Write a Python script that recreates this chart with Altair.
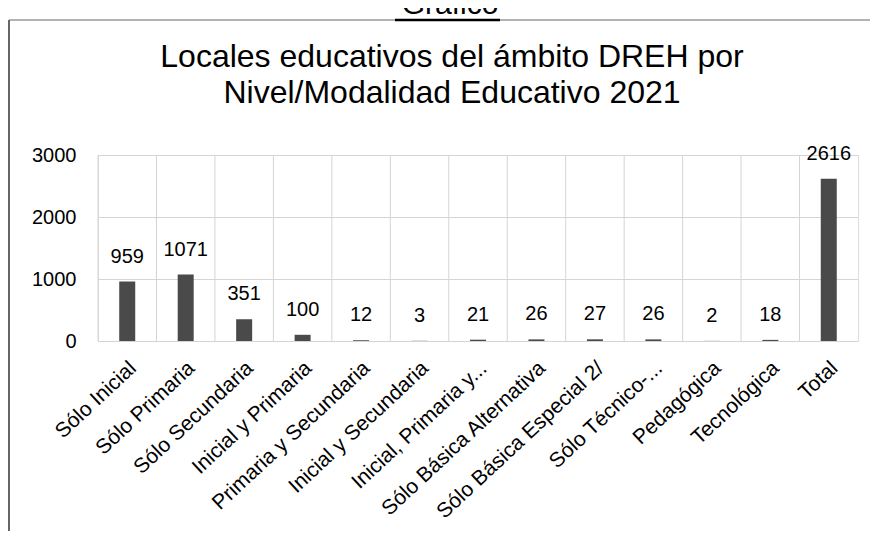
import altair as alt
import pandas as pd

categories = [
    "Sólo Inicial", "Sólo Primaria", "Sólo Secundaria", "Inicial y Primaria",
    "Primaria y Secundaria", "Inicial y Secundaria", "Inicial, Primaria y...",
    "Sólo Básica Alternativa", "Sólo Básica Especial 2/", "Sólo Técnico-...",
    "Pedagógica", "Tecnológica", "Total",
]
values = [959, 1071, 351, 100, 12, 3, 21, 26, 27, 26, 2, 18, 2616]
y_ticks = [0, 500, 1000, 1500, 2000, 2500, 3000]
title_lines = ["Locales educativos del ámbito DREH por", "Nivel/Modalidad Educativo 2021"]
header = ["Gráfico"]

df = pd.DataFrame({"cat": categories, "val": values})
FONT = "Liberation Sans"
GRID = "#d4d4d4"

x_scale = alt.Scale(paddingInner=0, paddingOuter=0)
x_enc = alt.X(
    "cat:N", sort=categories, title=None, scale=x_scale,
    axis=alt.Axis(
        labelAngle=-43, labelAlign="right", labelBaseline="middle",
        labelFontSize=21, labelFont=FONT, labelColor="black",
        labelPadding=24, labelOffset=6, ticks=False, domain=False,
        grid=False, labelLimit=300,
    ),
)
y_enc = alt.Y(
    "val:Q", title=None,
    scale=alt.Scale(domain=[0, 3000], nice=False),
    axis=alt.Axis(
        values=y_ticks, format="d", labelOverlap=False,
        labelFontSize=20, labelFont=FONT, labelColor="black",
        labelPadding=22, ticks=False, domain=False,
        gridColor=GRID, gridWidth=1,
    ),
)

base = alt.Chart(df)
vgrid = base.mark_rule(color=GRID, strokeWidth=1).encode(
    x=alt.X("cat:N", sort=categories, bandPosition=0),
)
bars = base.mark_bar(color="#4a4a4a", width=16).encode(x=x_enc, y=y_enc)
labels = base.mark_text(
    baseline="alphabetic", dy=-19, fontSize=20, font=FONT, color="black"
).encode(x=alt.X("cat:N", sort=categories), y="val:Q", text="val:Q")

title1 = alt.Chart(pd.DataFrame({"t": [title_lines[0]]})).mark_text(
    fontSize=32, font=FONT, color="black", baseline="alphabetic"
).encode(x=alt.value(354), y=alt.value(-88), text="t:N")
title2 = alt.Chart(pd.DataFrame({"t": [title_lines[1]]})).mark_text(
    fontSize=32, font=FONT, color="black", baseline="alphabetic"
).encode(x=alt.value(354), y=alt.value(-52), text="t:N")

head = alt.Chart(pd.DataFrame({"t": header})).mark_text(
    fontSize=30, font=FONT, color="black", baseline="alphabetic"
).encode(x=alt.value(352), y=alt.value(-141), text="t:N")

border_left = alt.Chart(pd.DataFrame({"t": header})).mark_rule(color="#333333", strokeWidth=1.5).encode(
    x=alt.value(-89), y=alt.value(-135), y2=alt.value(400)
)
border_top = alt.Chart(pd.DataFrame({"t": header})).mark_rule(color="#666666", strokeWidth=1).encode(
    x=alt.value(-89), x2=alt.value(772), y=alt.value(-135)
)
underline = alt.Chart(pd.DataFrame({"t": header})).mark_rule(color="black", strokeWidth=2.5).encode(
    x=alt.value(297), x2=alt.value(402), y=alt.value(-135)
)

chart = alt.layer(
    vgrid, bars, labels, title1, title2, head, border_left, border_top, underline
).properties(
    width=760, height=186,
    autosize=alt.AutoSizeParams(type="none"),
    padding={"left": 90, "top": 147, "right": 14, "bottom": 190},
).configure_view(stroke=GRID, fill="#f3f3f3").configure(background="white")

chart.save("out.html", embed_options={"renderer": "svg", "actions": False})
